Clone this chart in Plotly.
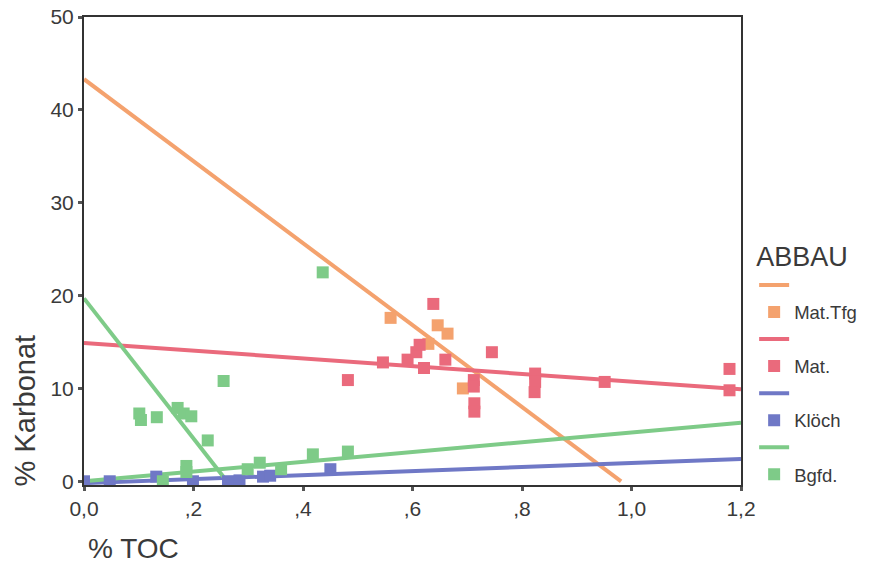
import plotly.graph_objects as go

# ---- data ----
groups = ["Mat.Tfg", "Mat.", "Klöch", "Bgfd."]
colors = {"Mat.Tfg": "#F4A26E", "Mat.": "#EA6A7C", "Klöch": "#6F78C6", "Bgfd.": "#7ECB88"}

mat_tfg_x = [0.560, 0.646, 0.664, 0.629, 0.692]
mat_tfg_y = [17.6, 16.8, 15.9, 14.8, 10.0]

mat_x = [0.638, 0.482, 0.546, 0.591, 0.607, 0.613, 0.621, 0.660, 0.745, 0.712,
         0.712, 0.713, 0.713, 0.824, 0.824, 0.823, 0.951, 1.179, 1.179]
mat_y = [19.1, 10.9, 12.8, 13.1, 13.9, 14.7, 12.2, 13.1, 13.9, 10.9,
         10.2, 8.4, 7.5, 11.6, 10.7, 9.6, 10.7, 12.1, 9.8]

kloech_x = [0.450, 0.327, 0.340, 0.263, 0.199, 0.132, 0.047, 0.0, 0.284]
kloech_y = [1.3, 0.5, 0.6, 0.0, 0.0, 0.5, 0.0, 0.0, 0.1]

bgfd_x = [0.436, 0.255, 0.101, 0.104, 0.133, 0.171, 0.182, 0.196, 0.226, 0.187,
          0.187, 0.299, 0.321, 0.360, 0.418, 0.482, 0.144]
bgfd_y = [22.5, 10.8, 7.3, 6.6, 6.9, 7.9, 7.3, 7.0, 4.4, 1.65,
          1.0, 1.3, 2.0, 1.3, 2.9, 3.2, 0.0]

# fitted lines: endpoints (x0, y0) -> (x1, y1)
fit_group = ["Mat.Tfg", "Mat.", "Klöch", "Bgfd.", "Bgfd."]
fit_x0 = [0.0, 0.0, 0.0, 0.0, 0.0]
fit_y0 = [43.3, 14.9, -0.2, 19.7, 0.0]
fit_x1 = [0.981, 1.2, 1.2, 0.265, 1.2]
fit_y1 = [0.0, 9.9, 2.4, -0.3, 6.3]

x_tickvals = [0.0, 0.2, 0.4, 0.6, 0.8, 1.0, 1.2]
x_ticktext = ["0,0", ",2", ",4", ",6", ",8", "1,0", "1,2"]
y_tickvals = [0, 10, 20, 30, 40, 50]
y_ticktext = ["0", "10", "20", "30", "40", "50"]

points = {
    "Mat.Tfg": (mat_tfg_x, mat_tfg_y),
    "Mat.": (mat_x, mat_y),
    "Klöch": (kloech_x, kloech_y),
    "Bgfd.": (bgfd_x, bgfd_y),
}

fig = go.Figure()
shown = set()
for i, g in enumerate(fit_group):
    fig.add_trace(go.Scatter(
        x=[fit_x0[i], fit_x1[i]], y=[fit_y0[i], fit_y1[i]],
        mode="lines", line=dict(color=colors[g], width=4),
        name=" ", showlegend=g not in shown,
        legendrank=groups.index(g) * 2 + 1, hoverinfo="skip"))
    shown.add(g)

for k, g in enumerate(groups):
    xs, ys = points[g]
    fig.add_trace(go.Scatter(
        x=xs, y=ys, mode="markers", name=g,
        marker=dict(symbol="square", size=12, color=colors[g]),
        legendrank=k * 2 + 2))

axis_common = dict(showgrid=False, zeroline=False, showline=True, mirror=True,
                   linecolor="#333333", linewidth=2, ticks="outside",
                   ticklen=4, tickwidth=3, tickcolor="#555555",
                   tickfont=dict(size=21, color="#3a3a3a"))

fig.update_layout(
    width=871, height=565,
    margin=dict(l=84, r=130, t=17, b=80, autoexpand=False),
    paper_bgcolor="white", plot_bgcolor="white",
    font=dict(family="Liberation Sans, Arial, sans-serif", color="#3a3a3a"),
    xaxis=dict(range=[0, 1.2], tickvals=x_tickvals, ticktext=x_ticktext, **axis_common),
    yaxis=dict(range=[-0.4, 50], tickvals=y_tickvals, ticktext=y_ticktext, **axis_common),
    legend=dict(x=1.020, xanchor="left", y=0.542, yanchor="top",
                title=dict(text="ABBAU", font=dict(size=27, color="#3a3a3a")),
                font=dict(size=18.5, color="#3a3a3a"), bgcolor="rgba(0,0,0,0)"),
    annotations=[
        dict(text="% TOC", xref="paper", yref="paper", x=0.003, y=-0.135,
             xanchor="left", yanchor="middle", showarrow=False,
             font=dict(size=28, color="#3a3a3a")),
        dict(text="% Karbonat", xref="paper", yref="paper", x=-0.062, y=0.16,
             xanchor="right", yanchor="middle", textangle=-90, showarrow=False,
             font=dict(size=29, color="#3a3a3a")),
    ],
)

fig.write_html("out.html")
